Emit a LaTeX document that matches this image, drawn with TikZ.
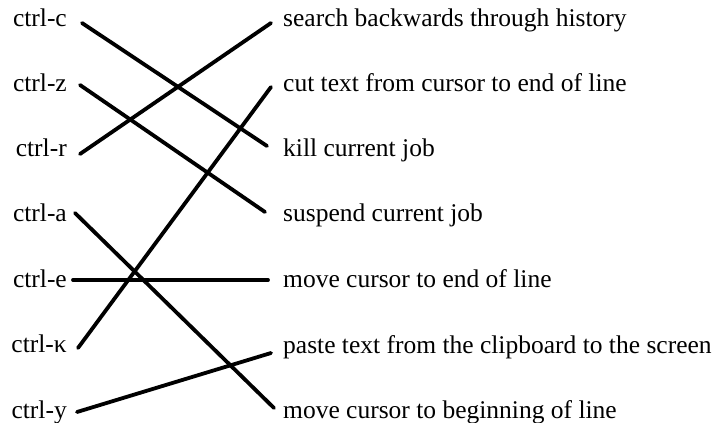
\documentclass[tikz,border=0pt]{standalone}
\usepackage{fontspec}
\setmainfont{Liberation Serif}
\begin{document}
\begin{tikzpicture}[x=1pt,y=1pt,
  lab/.style={inner sep=0pt,font=\fontsize{25.5}{30}\selectfont},
  key/.style={lab,anchor=base east},
  act/.style={lab,anchor=base west},
  link/.style={line width=3.8pt,line cap=round}]
\useasboundingbox (0,0) rectangle (715,-423);
% left labels
\node[key] (kc) at (67,-26)  {ctrl-c};
\node[key] (kz) at (67,-91)  {ctrl-z};
\node[key] (kr) at (67,-156) {ctrl-r};
\node[key] (ka) at (67,-221) {ctrl-a};
\node[key] (ke) at (67,-287) {ctrl-e};
\node[key] (kk) at (67,-352) {ctrl-κ};
\node[key] (ky) at (67,-418) {ctrl-y};
% right labels
\node[act] (a1) at (283,-26)  {search backwards through history};
\node[act] (a2) at (283,-91)  {cut text from cursor to end of line};
\node[act] (a3) at (283,-156) {kill current job};
\node[act] (a4) at (283,-221) {suspend current job};
\node[act] (a5) at (283,-287) {move cursor to end of line};
\node[act] (a6) at (283,-353) {paste text from the clipboard to the screen};
\node[act] (a7) at (283,-418) {move cursor to beginning of line};
% connectors
\draw[link] ([shift={(15,3)}]kc.base east) -- ([shift={(-16,10)}]a3.base west);
\draw[link] ([shift={(13,6)}]kz.base east) -- ([shift={(-18,9)}]a4.base west);
\draw[link] ([shift={(13,2)}]kr.base east) -- ([shift={(-12,3)}]a1.base west);
\draw[link] ([shift={(8,8)}]ka.base east) -- ([shift={(-9,10)}]a7.base west);
\draw[link] ([shift={(6,7)}]ke.base east) -- ([shift={(-15,7)}]a5.base west);
\draw[link] ([shift={(11,4)}]kk.base east) -- ([shift={(-12,4)}]a2.base west);
\draw[link] ([shift={(10,6)}]ky.base east) -- ([shift={(-12,0)}]a6.base west);
\end{tikzpicture}
\end{document}
